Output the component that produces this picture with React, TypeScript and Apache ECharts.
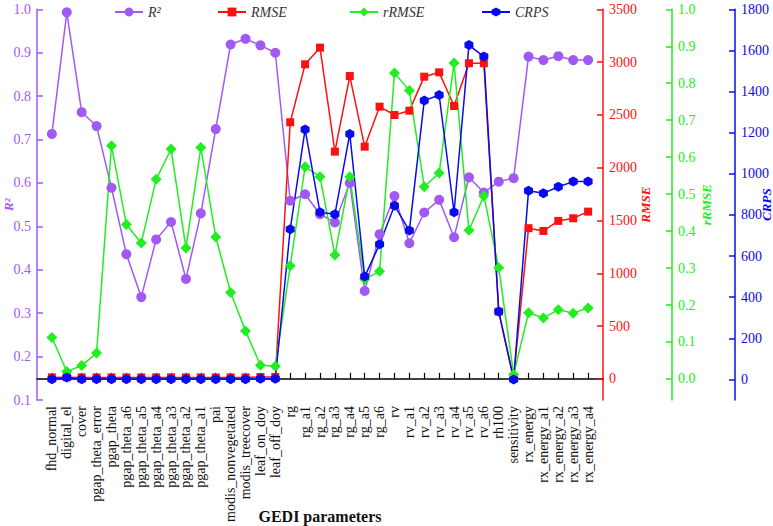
import React, { useEffect, useRef } from "react";
import * as echarts from "echarts";

const categories = [
  "fhd_normal", "digital_el", "cover", "pgap_theta_error", "pgap_theta",
  "pgap_theta_a6", "pgap_theta_a5", "pgap_theta_a4", "pgap_theta_a3", "pgap_theta_a2",
  "pgap_theta_a1", "pai", "modis_nonvegetated", "modis_treecover", "leaf_on_doy",
  "leaf_off_doy", "rg", "rg_a1", "rg_a2", "rg_a3", "rg_a4", "rg_a5", "rg_a6",
  "rv", "rv_a1", "rv_a2", "rv_a3", "rv_a4", "rv_a5", "rv_a6", "rh100",
  "sensitivity", "rx_energy", "rx_energy_a1", "rx_energy_a2", "rx_energy_a3", "rx_energy_a4",
];

const r2Values = [
  0.713, 0.993, 0.763, 0.731, 0.589, 0.436, 0.337, 0.47, 0.51, 0.379,
  0.53, 0.724, 0.919, 0.932, 0.917, 0.9, 0.559, 0.574, 0.528, 0.509,
  0.6, 0.351, 0.482, 0.57, 0.461, 0.532, 0.561, 0.475, 0.613, 0.578,
  0.603, 0.611, 0.891, 0.883, 0.892, 0.883, 0.883,
];

const rmseValues = [
  14, 16, 14, 14, 14, 14, 14, 14, 14, 14, 14, 14, 14, 14, 18, 18,
  2430, 2979, 3137, 2152, 2868, 2199, 2578,
  2499, 2540, 2862, 2903, 2584, 2989, 2989,
  637, 10, 1427, 1401, 1496, 1521, 1584,
];

const rrmseValues = [
  0.112, 0.02, 0.036, 0.07, 0.631, 0.418, 0.368, 0.54, 0.622, 0.354,
  0.626, 0.384, 0.234, 0.13, 0.037, 0.034, 0.306, 0.574, 0.547, 0.335,
  0.547, 0.27, 0.291, 0.828, 0.78, 0.52, 0.557, 0.855, 0.402, 0.495,
  0.301, 0.012, 0.179, 0.165, 0.187, 0.178, 0.192,
];

const crpsValues = [
  1, 9, 1, 1, 1, 1, 1, 1, 1, 1, 1, 1, 1, 1, 3, 3,
  730, 1216, 813, 803, 1194, 500, 657,
  845, 724, 1356, 1383, 813, 1626, 1570,
  330, 0, 918, 905, 937, 962, 962,
];

const rmseTicks = [0, 500, 1000, 1500, 2000, 2500, 3000, 3500];
const rrmseTicks = [0, 0.1, 0.2, 0.3, 0.4, 0.5, 0.6, 0.7, 0.8, 0.9, 1.0];
const crpsTicks = [0, 200, 400, 600, 800, 1000, 1200, 1400, 1600, 1800];

const FONT = "Liberation Serif";
const PURPLE = "#A259F4";
const RED = "#FF1010";
const GREEN = "#20EE20";
const BLUE = "#0A0AF0";
const HEX = "path://M0,-1L0.866,-0.5L0.866,0.5L0,1L-0.866,0.5L-0.866,-0.5Z";

export default function App() {
  const ref = useRef<HTMLDivElement>(null);

  useEffect(() => {
    if (!ref.current) return;
    const chart = echarts.init(ref.current, null, { renderer: "svg" });
    const padded = ["", ...categories, ""];
    const pad = (arr: number[]) => [null, ...arr, null];

    const yBase = (color: string) => ({
      type: "value" as const,
      splitLine: { show: false },
      axisLine: { show: true, onZero: false, lineStyle: { color, width: 1.5 } },
      axisTick: { show: true, inside: true, length: 6, lineStyle: { color, width: 1.5 } },
      axisLabel: { color, fontFamily: FONT, fontSize: 14, margin: 6, formatter: (v: number) => String(v) },
      nameLocation: "middle" as const,
      nameRotate: 90,
      nameMoveOverlap: false,
      nameTextStyle: { color, fontFamily: FONT, fontSize: 13, fontStyle: "italic", fontWeight: "bold" },
    });

    const legendItem = (name: string, left: number) => ({
      data: [name],
      left,
      top: 0,
      itemWidth: 28,
      itemHeight: 11,
      textStyle: { fontFamily: FONT, fontSize: 14, fontStyle: "italic", color: "#333" },
    });

    chart.setOption({
      animation: false,
      backgroundColor: "#fff",
      textStyle: { fontFamily: FONT },
      legend: [
        legendItem("R²", 109),
        legendItem("RMSE", 212),
        legendItem("rRMSE", 344),
        legendItem("CRPS", 476),
      ],
      grid: { left: 37, right: 170, top: 9.3, bottom: 126, containLabel: false, outerBoundsMode: "none" },
      xAxis: {
        type: "category",
        data: padded,
        boundaryGap: false,
        axisLine: { show: true, lineStyle: { color: "#000", width: 1.5 } },
        axisTick: {
          show: true,
          inside: true,
          length: 6,
          interval: (_i: number, v: string) => v !== "",
          lineStyle: { color: "#000", width: 1.2 },
        },
        axisLabel: {
          interval: 0,
          rotate: 90,
          color: "#111",
          fontFamily: FONT,
          fontSize: 14,
          margin: 6,
        },
        splitLine: { show: false },
        name: "GEDI parameters",
        nameLocation: "middle",
        nameGap: 108,
        nameMoveOverlap: false,
        nameTextStyle: { fontFamily: FONT, fontSize: 16, fontWeight: "bold", color: "#111" },
      },
      yAxis: [
        {
          ...yBase(PURPLE),
          position: "left",
          min: 0.1,
          max: 1.0,
          interval: 0.1,
          name: "R²",
          nameGap: 22,
          axisLabel: { ...yBase(PURPLE).axisLabel, formatter: (v: number) => v.toFixed(1) },
        },
        {
          ...yBase(RED),
          position: "right",
          offset: 0,
          min: -200,
          max: 3500,
          name: "RMSE",
          nameGap: 36,
          axisTick: { ...yBase(RED).axisTick, customValues: rmseTicks },
          axisLabel: { ...yBase(RED).axisLabel, customValues: rmseTicks },
        },
        {
          ...yBase(GREEN),
          position: "right",
          offset: 69,
          min: -0.057,
          max: 1.0,
          name: "rRMSE",
          nameGap: 28,
          axisTick: { ...yBase(GREEN).axisTick, customValues: rrmseTicks },
          axisLabel: {
            ...yBase(GREEN).axisLabel,
            customValues: rrmseTicks,
            formatter: (v: number) => v.toFixed(1),
          },
        },
        {
          ...yBase(BLUE),
          position: "right",
          offset: 132,
          min: -100,
          max: 1800,
          name: "CRPS",
          nameGap: 25,
          axisTick: { ...yBase(BLUE).axisTick, customValues: crpsTicks },
          axisLabel: { ...yBase(BLUE).axisLabel, customValues: crpsTicks },
        },
      ],
      series: [
        {
          name: "R²",
          type: "line",
          yAxisIndex: 0,
          data: pad(r2Values),
          symbol: "circle",
          symbolSize: 10,
          itemStyle: { color: PURPLE },
          lineStyle: { color: PURPLE, width: 1.5 },
        },
        {
          name: "RMSE",
          type: "line",
          yAxisIndex: 1,
          data: pad(rmseValues),
          symbol: "rect",
          symbolSize: 8,
          itemStyle: { color: RED },
          lineStyle: { color: RED, width: 1.5 },
        },
        {
          name: "rRMSE",
          type: "line",
          yAxisIndex: 2,
          data: pad(rrmseValues),
          symbol: "diamond",
          symbolSize: 11,
          itemStyle: { color: GREEN },
          lineStyle: { color: GREEN, width: 1.5 },
        },
        {
          name: "CRPS",
          type: "line",
          yAxisIndex: 3,
          data: pad(crpsValues),
          symbol: HEX,
          symbolSize: [9, 10],
          itemStyle: { color: BLUE },
          lineStyle: { color: BLUE, width: 1.5 },
        },
      ],
    });

    return () => chart.dispose();
  }, []);

  return <div ref={ref} style={{ width: 773, height: 526, position: "absolute", left: 0, top: 0 }} />;
}
